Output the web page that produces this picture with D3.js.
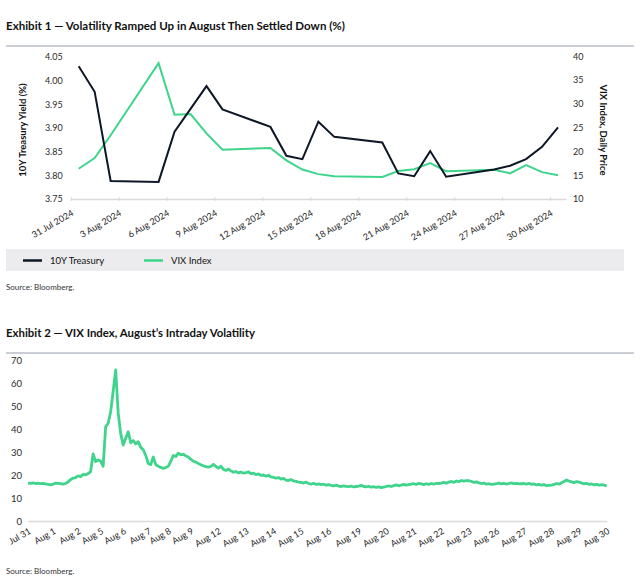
<!DOCTYPE html>
<html><head><meta charset="utf-8">
<script src="https://cdn.jsdelivr.net/npm/d3@7"></script>
<style>
body{margin:0;background:#fff;}
svg{display:block;font-family:Lato,"Open Sans",sans-serif;}
</style></head><body>
<svg id="c" width="640" height="583"></svg>
<script>
// ---------- Exhibit 1 data ----------
const dates1 = ["2024-07-31","2024-08-01","2024-08-02","2024-08-05","2024-08-06","2024-08-07","2024-08-08","2024-08-09",
  "2024-08-12","2024-08-13","2024-08-14","2024-08-15","2024-08-16","2024-08-19","2024-08-20","2024-08-21","2024-08-22",
  "2024-08-23","2024-08-26","2024-08-27","2024-08-28","2024-08-29","2024-08-30"];
const treasury10y = [4.03,3.976,3.788,3.786,3.892,3.94,3.988,3.939,3.902,3.841,3.834,3.913,3.881,3.869,3.804,3.798,3.851,3.797,3.812,3.820,3.834,3.860,3.901];
const vixDaily = [16.36,18.59,23.39,38.57,27.71,27.85,23.79,20.37,20.71,18.12,16.19,15.23,14.80,14.65,15.88,16.27,17.55,15.86,16.15,15.39,17.11,15.65,15.00];
const tickDates1 = ["2024-07-31","2024-08-03","2024-08-06","2024-08-09","2024-08-12","2024-08-15","2024-08-18","2024-08-21","2024-08-24","2024-08-27","2024-08-30"];
const yieldTicks = [3.75,3.80,3.85,3.90,3.95,4.00,4.05];
const vixTicks = [10,15,20,25,30,35,40];
const seriesNames1 = ["10Y Treasury","VIX Index"];

// ---------- Exhibit 2 data ----------
const intradayDays = ["Jul 31","Aug 1","Aug 2","Aug 5","Aug 6","Aug 7","Aug 8","Aug 9","Aug 12","Aug 13","Aug 14","Aug 15","Aug 16",
  "Aug 19","Aug 20","Aug 21","Aug 22","Aug 23","Aug 26","Aug 27","Aug 28","Aug 29","Aug 30"];
const vixIntraday = [
  [16.5,16.4,16.6,16.3,16.5,16.2,16.4,16.1,15.9,15.7],
  [16.0,16.5,16.4,16.2,16.0,16.3,17.0,18.0,18.6,18.9],
  [19.6,19.3,20.3,20.1,20.6,21.5,29.2,25.8,26.6],
  [26.0,23.8,41.0,42.5,47.5,56.5,65.7,47.0,38.0],
  [33.0,36.0,38.8,34.0,35.0,33.5,34.5,32.0,31.0,28.5],
  [25.0,24.5,27.8,24.5,23.8,23.3,22.9,23.2],
  [23.8,26.0,28.5,28.0,29.5,28.8,29.0,28.3,27.8],
  [26.8,26.0,25.6,25.0,24.5,24.0,23.6,23.4,23.8,24.6,23.8],
  [23.0,23.8,22.5,22.0,22.6,21.8,21.2,21.5,20.9,21.3,20.8],
  [21.0,21.4,20.6,20.8,20.2,20.5,19.8,20.0,19.5,19.9,19.2],
  [19.0,18.6,18.9,18.2,18.5,17.8,17.6,18.0,17.4,17.2,16.9],
  [16.8,16.5,16.9,16.3,16.0,16.4,15.9,16.1,15.8,16.0,15.6],
  [15.8,15.5,15.3,15.6,15.2,15.0,15.3,15.1,14.9,15.2,14.8,15.0],
  [15.2,15.5,15.0,14.8,15.1,14.7,14.9,14.6,14.8,14.5,14.7],
  [15.0,15.3,15.0,15.4,15.7,15.3,15.6,15.9,15.6,15.8,16.0],
  [16.2,15.9,16.4,16.1,15.8,16.2,15.9,16.3,16.0,16.4,16.3],
  [16.5,16.8,16.4,16.9,17.2,16.8,17.4,17.1,17.6,17.3,17.6],
  [17.5,17.2,16.8,17.0,16.6,16.3,16.5,16.0,16.2,15.9,16.0],
  [16.2,16.5,16.1,16.4,16.0,16.3,16.6,16.2,16.4,16.1,16.2],
  [16.3,16.0,16.4,15.9,16.1,15.7,15.9,15.6,15.8,15.4,15.5],
  [15.6,15.9,16.3,16.0,16.6,17.2,17.8,17.3,17.0,16.7,17.1],
  [16.9,16.5,16.2,16.4,15.9,16.1,15.7,15.9,15.6,15.8,15.6],
  [15.2]
];
const intradayTicks = [0,10,20,30,40,50,60,70];

// ---------- styles ----------
const NAVY = "#0e1726", GREEN = "#3fd48b", AXIS = "#d9dadd", TXT = "#2a2a2a";
const svg = d3.select("#c");

function title(y, text, len){
  svg.append("text").attr("x",6).attr("y",y).attr("font-size",12).attr("font-weight","bold")
    .attr("fill","#111").attr("textLength",len).attr("lengthAdjust","spacingAndGlyphs").text(text);
}
function rule(y){
  svg.append("line").attr("x1",6).attr("x2",634).attr("y1",y).attr("y2",y)
    .attr("stroke","#b9bcc4").attr("stroke-width",1.5);
}
function source(y){
  svg.append("text").attr("x",6).attr("y",y).attr("font-size",8).attr("fill","#333").text("Source: Bloomberg.");
}

// ================= Exhibit 1 =================
title(30, "Exhibit 1 \u2014 Volatility Ramped Up in August Then Settled Down (%)", 339);
rule(46);

const parse = d3.utcParse("%Y-%m-%d");
const d1 = dates1.map(parse);
const x1 = d3.scaleUtc().domain([parse("2024-07-31"), parse("2024-08-31")]).range([70.7, 566]);
const yL = d3.scaleLinear().domain([3.75, 4.05]).range([199, 56.7]);
const yR = d3.scaleLinear().domain([10, 40]).range([199, 56.3]);
const mid = d => d3.utcHour.offset(d, 12);

const g1 = svg.append("g");
const axL = g1.append("g").attr("transform","translate(70.7,0)")
  .call(d3.axisLeft(yL).tickValues(yieldTicks).tickFormat(d3.format(".2f")).tickSize(0).tickPadding(8));
axL.select(".domain").remove();
axL.selectAll("text").attr("font-size",9).attr("fill",TXT).attr("font-family","Lato,sans-serif");
const axR = g1.append("g").attr("transform","translate(566,0)")
  .call(d3.axisRight(yR).tickValues(vixTicks).tickSize(0).tickPadding(7));
axR.select(".domain").remove();
axR.selectAll("text").attr("font-size",9).attr("fill",TXT).attr("font-family","Lato,sans-serif");
const axB = g1.append("g").attr("transform","translate(0,199)")
  .call(d3.axisBottom(x1).tickValues(tickDates1.map(parse)).tickFormat(d3.utcFormat("%-d %b %Y")).tickSize(3).tickSizeOuter(0));
axB.select(".domain").attr("stroke",AXIS).attr("stroke-width",1.5);
axB.selectAll(".tick line").attr("stroke",AXIS).attr("y1",-2).attr("y2",2);
axB.selectAll(".tick text").attr("font-size",9).attr("fill",TXT).attr("font-family","Lato,sans-serif")
  .attr("text-anchor","end").attr("y",0).attr("dy",0)
  .attr("transform","translate(3,16) rotate(-30)");

g1.append("text").attr("transform","translate(26,130) rotate(-90)").attr("text-anchor","middle")
  .attr("font-size",9.5).attr("font-weight","bold").attr("fill","#111").text("10Y Treasury Yield (%)");
g1.append("text").attr("transform","translate(600,130) rotate(90)").attr("text-anchor","middle")
  .attr("font-size",9.5).attr("font-weight","bold").attr("fill","#111").text("VIX Index, Daily Price");

const lineT = d3.line().x((d,i)=>x1(mid(d1[i]))).y(d=>yL(d));
const lineV = d3.line().x((d,i)=>x1(mid(d1[i]))).y(d=>yR(d));
g1.append("path").datum(vixDaily).attr("d",lineV).attr("fill","none").attr("stroke",GREEN).attr("stroke-width",2);
g1.append("path").datum(treasury10y).attr("d",lineT).attr("fill","none").attr("stroke",NAVY).attr("stroke-width",2);

const lg = svg.append("g");
lg.append("rect").attr("x",6).attr("y",249).attr("width",618).attr("height",22).attr("fill","#ececee");
const legColors = [NAVY, GREEN];
const legX = [23, 144];
seriesNames1.forEach((n,i)=>{
  lg.append("line").attr("x1",legX[i]).attr("x2",legX[i]+19).attr("y1",260.5).attr("y2",260.5)
    .attr("stroke",legColors[i]).attr("stroke-width",2.5);
  lg.append("text").attr("x",legX[i]+27).attr("y",264).attr("font-size",9.5).attr("fill","#111").text(n);
});
source(290);

// ================= Exhibit 2 =================
title(337, "Exhibit 2 \u2014 VIX Index, August\u2019s Intraday Volatility", 249);
rule(353);

const flat = [];
const dayStart = [];
vixIntraday.forEach(arr=>{ dayStart.push(flat.length); arr.forEach(v=>flat.push(v)); });
const x2 = d3.scaleLinear().domain([0, flat.length-1]).range([28, 606.7]);
const y2 = d3.scaleLinear().domain([0, 70]).range([521, 360]);

const g2 = svg.append("g");
const ax2L = g2.append("g").attr("transform","translate(28,0)")
  .call(d3.axisLeft(y2).tickValues(intradayTicks).tickSize(0).tickPadding(6));
ax2L.select(".domain").remove();
ax2L.selectAll("text").attr("font-size",9.5).attr("fill",TXT).attr("font-family","Lato,sans-serif");

const ax2B = g2.append("g").attr("transform","translate(0,521)")
  .call(d3.axisBottom(x2).tickValues(dayStart).tickFormat((d,i)=>intradayDays[i]).tickSize(0).tickSizeOuter(0));
ax2B.select(".domain").attr("stroke",AXIS).attr("stroke-width",1.5);
ax2B.selectAll(".tick text").attr("font-size",9).attr("fill",TXT).attr("font-family","Lato,sans-serif")
  .attr("text-anchor","end").attr("y",0).attr("dy",0)
  .attr("transform","translate(3,12) rotate(-30)");

g2.append("path").datum(flat)
  .attr("d", d3.line().x((d,i)=>x2(i)).y(d=>y2(d)))
  .attr("fill","none").attr("stroke",GREEN).attr("stroke-width",2.8).attr("stroke-linejoin","round");

source(574);
</script>
</body></html>
